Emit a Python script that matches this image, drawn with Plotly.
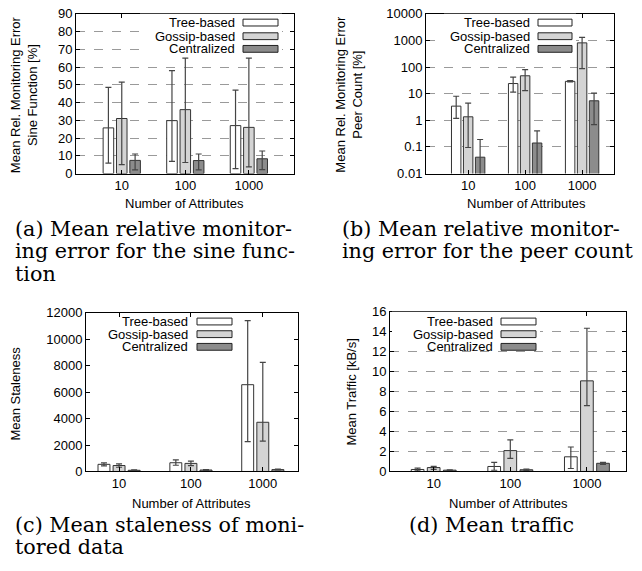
import plotly.graph_objects as go

W, H = 642, 571

categories = ["10", "100", "1000"]
series_names = ["Tree-based", "Gossip-based", "Centralized"]
series_colors = ["#ffffff", "#d4d4d4", "#8c8c8c"]

# (a) sine function error [%]
sine_mean = [[25.7, 29.8, 27.0], [31.0, 36.0, 26.0], [7.4, 7.3, 8.3]]
sine_hi = [[48.5, 58.0, 47.0], [51.5, 65.0, 65.0], [11.0, 11.0, 12.7]]
sine_lo = [[5.9, 6.8, 2.8], [5.0, 6.2, 3.7], [2.0, 2.0, 2.2]]

# (b) peer count error [%]
peer_mean = [[3.4, 24.0, 29.0], [1.35, 47.0, 810.0], [0.041, 0.14, 5.4]]
peer_hi = [[8.0, 42.0, 31.0], [4.4, 80.0, 1300.0], [0.19, 0.4, 10.5]]
peer_lo = [[1.17, 11.5, 27.5], [0.095, 13.0, 87.0], [0.005, 0.005, 0.69]]

# (c) staleness
stale_mean = [[540, 660, 6560], [450, 610, 3720], [90, 110, 140]]
stale_hi = [[650, 870, 11400], [580, 780, 8250], [130, 150, 170]]
stale_lo = [[430, 470, 2250], [320, 440, 2300], [50, 70, 110]]

# (d) traffic [kB/s]
traffic_mean = [[0.20, 0.50, 1.47], [0.39, 2.09, 9.08], [0.13, 0.17, 0.82]]
traffic_hi = [[0.33, 0.91, 2.45], [0.52, 3.17, 14.35], [0.17, 0.25, 0.91]]
traffic_lo = [[0.07, 0.12, 0.30], [0.22, 1.31, 6.60], [0.08, 0.10, 0.72]]

SANS = "Liberation Sans, Arial, sans-serif"
SERIF = "DejaVu Serif, serif"

panels = [
    dict(mean=sine_mean, hi=sine_hi, lo=sine_lo, box=(76, 294, 7, 171), xr=[-0.72, 2.71],
         ytype="linear", yr=[0, 90], dtick=10, grid=True,
         ytitle="Mean Rel. Monitoring Error<br>Sine Function [%]", ytx=23.5, yty=90,
         xtx=185, xty=202,
         leg=dict(tr=235, s0=243, s1=278, rows=[16, 30, 43], box=(140, 282, 7, 51))),
    dict(mean=peer_mean, hi=peer_hi, lo=peer_lo, box=(426, 614, 7, 171), xr=[-0.74, 2.56],
         ytype="log", yr=[-2, 4], dtick=None, grid=True,
         ytitle="Mean Rel. Monitoring Error<br>Peer Count [%]", ytx=349, yty=90,
         xtx=526, xty=202,
         leg=dict(tr=530, s0=538, s1=572, rows=[16, 30, 43], box=(444, 576, 7, 51))),
    dict(mean=stale_mean, hi=stale_hi, lo=stale_lo, box=(86, 298, 314, 477), xr=[-0.46, 2.49],
         ytype="linear", yr=[0, 12000], dtick=2000, grid=False,
         ytitle="Mean Staleness", ytx=16, yty=397,
         xtx=192, xty=510,
         leg=dict(tr=188, s0=197, s1=232, rows=[323, 336, 349], box=(100, 236, 314, 355))),
    dict(mean=traffic_mean, hi=traffic_hi, lo=traffic_lo, box=(390, 626, 313, 477), xr=[-0.57, 2.51],
         ytype="linear", yr=[0, 16], dtick=2, grid=True,
         ytitle="Mean Traffic [kB/s]", ytx=352, yty=395,
         xtx=508, xty=510,
         leg=dict(tr=493, s0=501, s1=536, rows=[323, 336, 349], box=(392, 540, 313, 352))),
]

fig = go.Figure()
annotations = []
shapes = []

def px(xp):
    return xp / W

def py(yp):
    return 1 - yp / H

for n, p in enumerate(panels, start=1):
    xa = "x" if n == 1 else f"x{n}"
    ya = "y" if n == 1 else f"y{n}"
    for i in range(3):
        m = p["mean"][i]
        up = [h - v for h, v in zip(p["hi"][i], m)]
        dn = [v - l for v, l in zip(m, p["lo"][i])]
        fig.add_trace(go.Bar(
            x=categories, y=m, name=series_names[i], showlegend=False,
            xaxis=xa, yaxis=ya,
            marker=dict(color=series_colors[i], line=dict(color="#333333", width=1)),
            error_y=dict(type="data", symmetric=False, array=up, arrayminus=dn,
                         color="#454545", thickness=1.2, width=3),
        ))
    x0, x1, y0, y1 = p["box"]
    xkey = "xaxis" if n == 1 else f"xaxis{n}"
    ykey = "yaxis" if n == 1 else f"yaxis{n}"
    axis_common = dict(showline=True, linecolor="black", linewidth=1, mirror="ticks",
                       ticks="inside", ticklen=4, tickcolor="black", zeroline=False,
                       tickfont=dict(family=SANS, size=13, color="black"))
    fig.layout[xkey] = dict(domain=[px(x0), px(x1)], anchor=ya, type="category",
                            range=p["xr"], showgrid=False, **axis_common)
    yax = dict(domain=[py(y1), py(y0)], anchor=xa, type=p["ytype"], range=p["yr"],
               showgrid=p["grid"], gridcolor="#9a9a9a", griddash="dash", gridwidth=1,
               **axis_common)
    if p["ytype"] == "log":
        yax["tickvals"] = [0.01, 0.1, 1, 10, 100, 1000, 10000]
        yax["ticktext"] = ["0.01", "0.1", "1", "10", "100", "1000", "10000"]
    else:
        yax["dtick"] = p["dtick"]
        yax["tickformat"] = "d"
    fig.layout[ykey] = yax

    # axis titles
    annotations.append(dict(text="Number of Attributes", x=px(p["xtx"]), y=py(p["xty"]),
                            xref="paper", yref="paper", showarrow=False,
                            xanchor="center", yanchor="middle",
                            font=dict(family=SANS, size=13, color="black")))
    annotations.append(dict(text=p["ytitle"], x=px(p["ytx"]), y=py(p["yty"]),
                            xref="paper", yref="paper", showarrow=False, textangle=-90,
                            xanchor="center", yanchor="middle",
                            font=dict(family=SANS, size=13, color="black")))
    # legend
    lg = p["leg"]
    bx0, bx1, by0, by1 = lg["box"]
    if p["grid"]:
        shapes.append(dict(type="rect", xref="paper", yref="paper",
                           x0=px(bx0), x1=px(bx1), y0=py(by1), y1=py(by0),
                           fillcolor="white", line=dict(width=0), layer="above"))
    for i in range(3):
        ry = lg["rows"][i]
        annotations.append(dict(text=series_names[i], x=px(lg["tr"] + 1), y=py(ry),
                                xref="paper", yref="paper", showarrow=False,
                                xanchor="right", yanchor="middle", borderpad=0,
                                font=dict(family=SANS, size=13, color="black")))
        shapes.append(dict(type="rect", xref="paper", yref="paper",
                           x0=px(lg["s0"]), x1=px(lg["s1"]), y0=py(ry + 3.5), y1=py(ry - 3.5),
                           fillcolor=series_colors[i], line=dict(color="#222222", width=1),
                           layer="above"))

captions = [
    ("(a) Mean relative monitor-", 13, 228),
    ("ing error for the sine func-", 13, 251),
    ("tion", 13, 274),
    ("(b) Mean relative monitor-", 340, 228),
    ("ing error for the peer count", 340, 251),
    ("(c) Mean staleness of moni-", 13, 532),
    ("tored data", 13, 555),
    ("(d) Mean traffic", 407, 532),
]
for t, cx, cy in captions:
    annotations.append(dict(text=t, x=px(cx), y=py(cy), xref="paper", yref="paper",
                            showarrow=False, xanchor="left", yanchor="middle",
                            font=dict(family=SERIF, size=20.7, color="black")))

fig.update_layout(width=W, height=H, margin=dict(l=0, r=0, t=0, b=0),
                  paper_bgcolor="white", plot_bgcolor="white",
                  barmode="group", bargap=0.37, bargroupgap=0.21,
                  annotations=annotations, shapes=shapes, showlegend=False)

fig.write_html("out.html", config={"displayModeBar": False},
               post_script="document.body.style.margin='0px';")
